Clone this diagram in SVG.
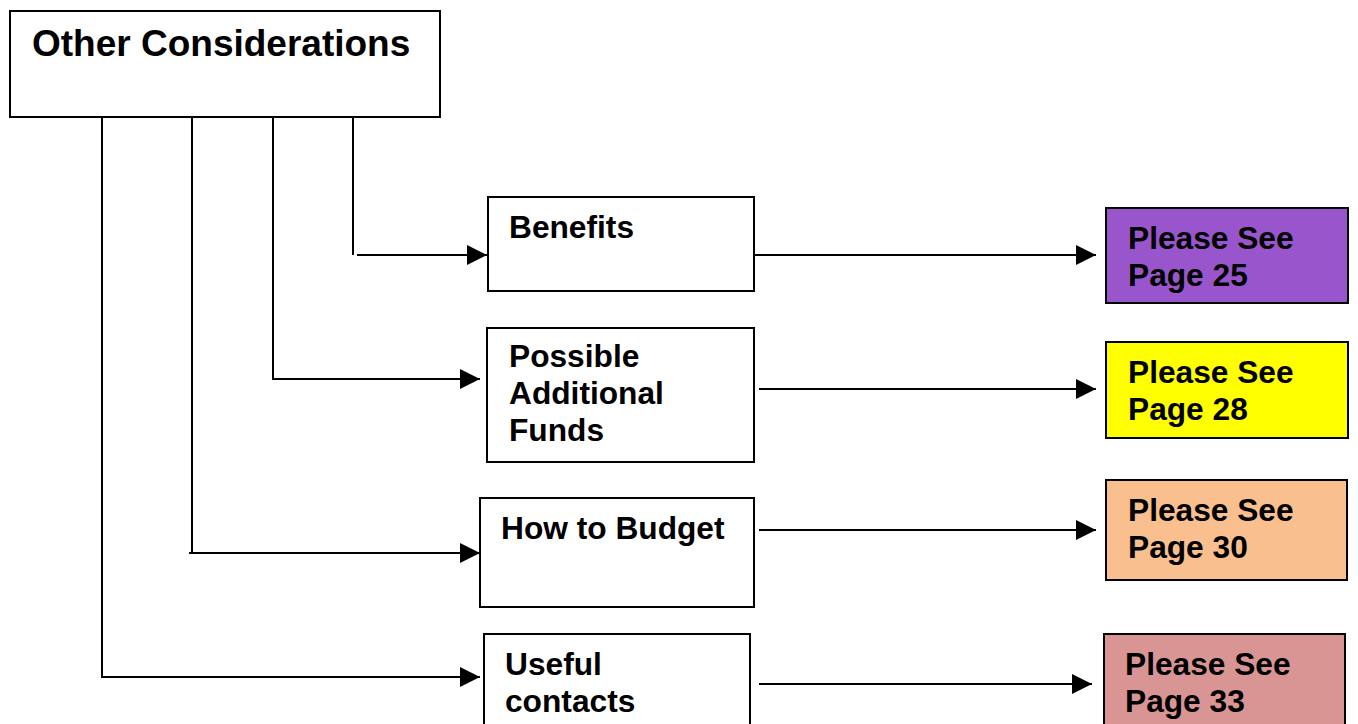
<svg xmlns="http://www.w3.org/2000/svg" width="1358" height="724" viewBox="0 0 1358 724">
<defs>
<style>
.box{stroke:#000;stroke-width:2;}
.t{font-family:"Liberation Sans",Arial,sans-serif;font-weight:bold;font-size:31.7px;fill:#000;}
.title{font-size:37px;}
.c{fill:none;stroke:#000;stroke-width:2;}
</style>
<marker id="arrB" viewBox="0 0 20 20" refX="20" refY="10" markerWidth="20" markerHeight="20" markerUnits="userSpaceOnUse" orient="auto">
<path d="M0,0 L20,10 L0,20 z" fill="#000"/>
</marker>
</defs>
<rect width="1358" height="724" fill="#fff"/>
<g id="connectors">
<path class="c" d="M353,117 V255"/>
<path class="c" d="M357,255 H487" marker-end="url(#arrB)"/>
<path class="c" d="M273,117 V379 H480" marker-end="url(#arrB)"/>
<path class="c" d="M192,117 V553"/>
<path class="c" d="M189,553 H480" marker-end="url(#arrB)"/>
<path class="c" d="M102,117 V677 H480" marker-end="url(#arrB)"/>
<path class="c" d="M755,255 H1096" marker-end="url(#arrB)"/>
<path class="c" d="M759,389 H1096" marker-end="url(#arrB)"/>
<path class="c" d="M759,530 H1096" marker-end="url(#arrB)"/>
<path class="c" d="M759,684 H1092" marker-end="url(#arrB)"/>
</g>
<g id="other-considerations">
<rect class="box" x="10" y="11" width="430" height="106" fill="#fff"/>
<text class="t title" x="32" y="56">Other Considerations</text>
</g>
<g id="benefits">
<rect class="box" x="488" y="197" width="266" height="94" fill="#fff"/>
<text class="t" x="509" y="238">Benefits</text>
</g>
<g id="additional-funds">
<rect class="box" x="487" y="328" width="267" height="134" fill="#fff"/>
<text class="t" x="509" y="367">Possible</text>
<text class="t" x="509" y="404">Additional</text>
<text class="t" x="509" y="441">Funds</text>
</g>
<g id="budget">
<rect class="box" x="480" y="498" width="274" height="109" fill="#fff"/>
<text class="t" x="501" y="539">How to Budget</text>
</g>
<g id="contacts">
<rect class="box" x="484" y="634" width="266" height="100" fill="#fff"/>
<text class="t" x="505" y="675">Useful</text>
<text class="t" x="505" y="712">contacts</text>
</g>
<g id="page25">
<rect class="box" x="1106" y="208" width="242" height="95" fill="#9955CC"/>
<text class="t" x="1128" y="249">Please See</text>
<text class="t" x="1128" y="286">Page 25</text>
</g>
<g id="page28">
<rect class="box" x="1106" y="342" width="242" height="96" fill="#FFFF00"/>
<text class="t" x="1128" y="383">Please See</text>
<text class="t" x="1128" y="420">Page 28</text>
</g>
<g id="page30">
<rect class="box" x="1106" y="480" width="241" height="100" fill="#F9BF8F"/>
<text class="t" x="1128" y="521">Please See</text>
<text class="t" x="1128" y="558">Page 30</text>
</g>
<g id="page33">
<rect class="box" x="1104" y="634" width="241" height="100" fill="#D99594"/>
<text class="t" x="1125" y="675">Please See</text>
<text class="t" x="1125" y="712">Page 33</text>
</g>
</svg>
